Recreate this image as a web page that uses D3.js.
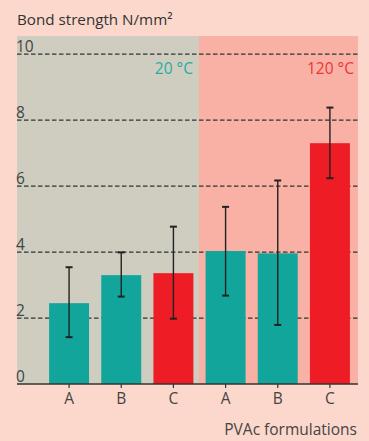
<!DOCTYPE html>
<html>
<head>
<meta charset="utf-8">
<script src="https://cdn.jsdelivr.net/npm/d3@7"></script>
<style>
  body { margin: 0; background: #fcd8cc; }
  svg { display: block; font-family: "Open Sans", "Noto Sans", sans-serif; }
</style>
</head>
<body>
<div id="chartDiv"></div>
<script>
// data
const formulations = ['A', 'B', 'C', 'A', 'B', 'C'];
const temps = ['20 °C', '20 °C', '20 °C', '120 °C', '120 °C', '120 °C'];
const means = [2.45, 3.30, 3.36, 4.03, 3.96, 7.30];
const errLow = [1.42, 2.65, 1.98, 2.68, 1.79, 6.24];
const errHigh = [3.54, 3.99, 4.77, 5.37, 6.17, 8.38];
const barKind = ['teal', 'teal', 'red', 'teal', 'teal', 'red'];
const yTicks = [0, 2, 4, 6, 8, 10];

const width = 369, height = 441;
const plot = {left: 17, right: 358, top: 36, bottom: 384};

const data = formulations.map((f, i) => ({
  id: i, name: f, temp: temps[i], value: means[i], lo: errLow[i], hi: errHigh[i], kind: barKind[i]
}));

const x = d3.scaleBand()
  .domain(data.map(d => d.id))
  .range([43, 356])
  .paddingInner(0.234)
  .paddingOuter(0.117);

const y = d3.scaleLinear()
  .domain([0, 10.55])
  .range([plot.bottom, plot.top]);

const colors = {teal: '#12a59c', red: '#ee1c25'};

const svg = d3.create('svg')
  .attr('width', width)
  .attr('height', height)
  .attr('viewBox', [0, 0, width, height]);

// temperature panels
const split = 199;
svg.append('rect')
  .attr('x', plot.left).attr('y', plot.top)
  .attr('width', split - plot.left).attr('height', plot.bottom - plot.top)
  .attr('fill', '#cfcdc0');
svg.append('rect')
  .attr('x', split).attr('y', plot.top)
  .attr('width', plot.right - split).attr('height', plot.bottom - plot.top)
  .attr('fill', '#f9b0a5');

// dashed gridlines
svg.append('g')
  .selectAll('line')
  .data(yTicks.filter(t => t > 0))
  .join('line')
  .attr('x1', plot.left).attr('x2', plot.right)
  .attr('y1', d => y(d)).attr('y2', d => y(d))
  .attr('stroke', '#333')
  .attr('stroke-width', 1.2)
  .attr('stroke-dasharray', '4.5,2.5');

// y tick labels sit above each line
svg.append('g')
  .selectAll('text')
  .data(yTicks)
  .join('text')
  .attr('x', plot.left - 1)
  .attr('y', d => y(d) - 2.5)
  .attr('fill', '#444')
  .attr('font-size', 15.5)
  .text(d => d);

// bars
svg.append('g')
  .selectAll('rect')
  .data(data)
  .join('rect')
  .attr('x', d => x(d.id))
  .attr('y', d => y(d.value))
  .attr('width', x.bandwidth())
  .attr('height', d => y(0) - y(d.value))
  .attr('fill', d => colors[d.kind]);

// error bars
const err = svg.append('g')
  .attr('stroke', '#222')
  .attr('stroke-width', 1.4)
  .selectAll('g')
  .data(data)
  .join('g')
  .attr('transform', d => `translate(${x(d.id) + x.bandwidth() / 2},0)`);
err.append('line')
  .attr('y1', d => y(d.lo)).attr('y2', d => y(d.hi));
err.append('line')
  .attr('x1', -3.5).attr('x2', 3.5)
  .attr('y1', d => y(d.hi)).attr('y2', d => y(d.hi))
  .attr('stroke-width', 2);
err.append('line')
  .attr('x1', -3.5).attr('x2', 3.5)
  .attr('y1', d => y(d.lo)).attr('y2', d => y(d.lo))
  .attr('stroke-width', 2);

// x axis
const xAxis = svg.append('g')
  .attr('transform', `translate(0,${plot.bottom})`)
  .call(d3.axisBottom(x).tickSize(4).tickPadding(5).tickFormat(i => formulations[i]));
xAxis.select('.domain').remove();
xAxis.selectAll('.tick line').attr('stroke', '#333').attr('stroke-width', 1.2);
xAxis.selectAll('.tick text')
  .attr('font-family', '"Open Sans", "Noto Sans", sans-serif')
  .attr('font-size', 15.5)
  .attr('fill', '#444');
svg.append('line')
  .attr('x1', plot.left).attr('x2', plot.right)
  .attr('y1', plot.bottom).attr('y2', plot.bottom)
  .attr('stroke', '#333')
  .attr('stroke-width', 1.5);

// panel labels
svg.append('text')
  .attr('x', 193).attr('y', 74)
  .attr('text-anchor', 'end')
  .attr('font-size', 15.5)
  .attr('fill', '#26ada3')
  .text(temps[0]);
svg.append('text')
  .attr('x', 354).attr('y', 74)
  .attr('text-anchor', 'end')
  .attr('font-size', 15.5)
  .attr('fill', '#ee3535')
  .text(temps[3]);

// axis titles
svg.append('text')
  .attr('x', plot.left).attr('y', 25)
  .attr('font-size', 15.2)
  .attr('fill', '#333')
  .text('Bond strength N/mm²');
svg.append('text')
  .attr('x', 357).attr('y', 435)
  .attr('text-anchor', 'end')
  .attr('font-size', 15.5)
  .attr('fill', '#444')
  .text('PVAc formulations');

document.getElementById('chartDiv').appendChild(svg.node());
</script>
</body>
</html>
